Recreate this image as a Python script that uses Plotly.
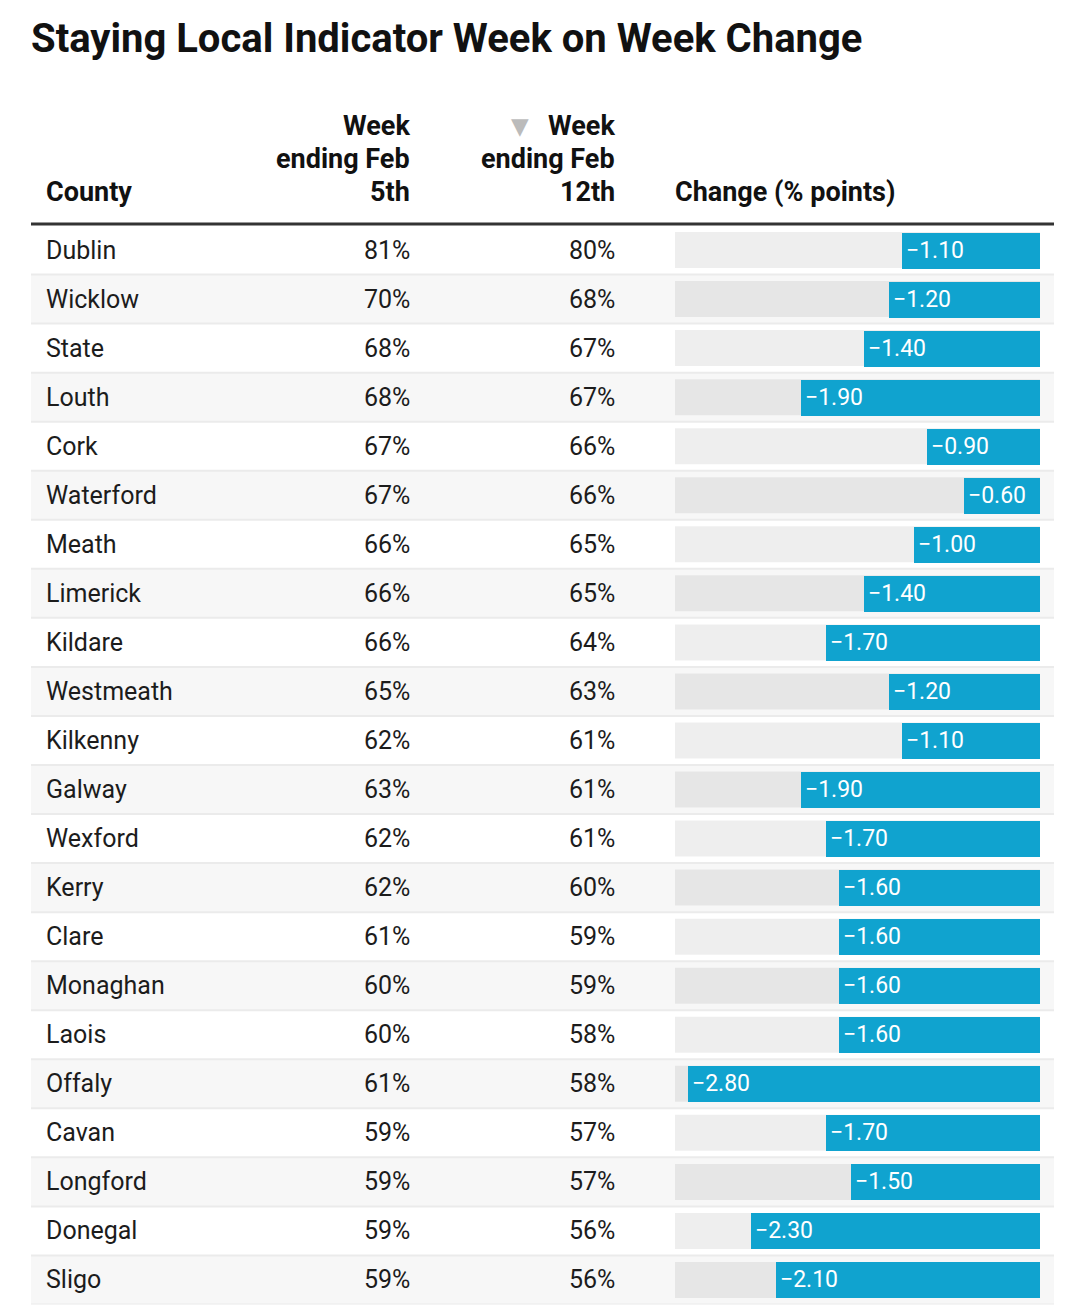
import plotly.graph_objects as go

# ---------------- data ----------------
counties = ["Dublin", "Wicklow", "State", "Louth", "Cork", "Waterford", "Meath",
            "Limerick", "Kildare", "Westmeath", "Kilkenny", "Galway", "Wexford",
            "Kerry", "Clare", "Monaghan", "Laois", "Offaly", "Cavan", "Longford",
            "Donegal", "Sligo"]
week_feb5 = [81, 70, 68, 68, 67, 67, 66, 66, 66, 65, 62, 63, 62, 62, 61, 60, 60,
             61, 59, 59, 59, 59]
week_feb12 = [80, 68, 67, 67, 66, 66, 65, 65, 64, 63, 61, 61, 61, 60, 59, 59, 58,
              58, 57, 57, 56, 56]
change = [-1.10, -1.20, -1.40, -1.90, -0.90, -0.60, -1.00, -1.40, -1.70, -1.20,
          -1.10, -1.90, -1.70, -1.60, -1.60, -1.60, -1.60, -2.80, -1.70, -1.50,
          -2.30, -2.10]
title = "Staying Local Indicator Week on Week Change"
col_headers = ["County", ["Week", "ending Feb", "5th"], ["Week", "ending Feb", "12th"],
               "Change (% points)"]
AXIS_MIN = -2.9

# ---------------- layout constants ----------------
W, H = 1080, 1305
FONT = "Roboto"
TXT = "#1c1c1c"
BLUE = "#10a3cf"
n = len(counties)
row_top, row_bot = 225.5, 1304.5


def px(x):
    return x / W


def py(y):
    return (H - y) / H


fig = go.Figure()

fig.add_trace(go.Bar(
    x=change, y=counties, orientation="h", width=0.734,
    marker=dict(color=BLUE, line=dict(width=0)),
    hoverinfo="skip", showlegend=False,
))

shapes = []
# stripes
for i in range(n):
    if i % 2 == 1:
        shapes.append(dict(type="rect", xref="paper", yref="y", x0=px(31), x1=px(1054),
                           y0=i - 0.5, y1=i + 0.5, fillcolor="#f7f7f7",
                           line=dict(width=0), layer="below"))
# tracks
for i in range(n):
    shapes.append(dict(type="rect", xref="x domain", yref="y", x0=0, x1=1,
                       y0=i - 0.367, y1=i + 0.367, fillcolor="rgba(0,0,0,0.068)",
                       line=dict(width=0), layer="below"))
# separators
for i in range(n):
    shapes.append(dict(type="line", xref="paper", yref="y", x0=px(31), x1=px(1054),
                       y0=i + 0.5, y1=i + 0.5, line=dict(color="#ebebeb", width=2),
                       layer="below"))
# header rule
shapes.append(dict(type="line", xref="paper", yref="paper", x0=px(31), x1=px(1054),
                   y0=py(224), y1=py(224), line=dict(color="#333333", width=3)))

ann = []
# title
ann.append(dict(text="<b>%s</b>" % title, xref="paper", yref="paper", x=px(29), y=py(38),
                xanchor="left", yanchor="middle", showarrow=False,
                font=dict(family=FONT, size=40, color="#111111")))
# headers
hfont = dict(family=FONT, size=27, color="#111111")
ann.append(dict(text="<b>%s</b>" % col_headers[0], xref="paper", yref="paper",
                x=px(44), y=py(192), xanchor="left", yanchor="middle",
                showarrow=False, font=hfont))
ann.append(dict(text="<b>%s</b>" % col_headers[3], xref="paper", yref="paper",
                x=px(673), y=py(192), xanchor="left", yanchor="middle",
                showarrow=False, font=hfont))
for xr, lines in [(412, col_headers[1]), (617, col_headers[2])]:
    for k, ln in enumerate(lines):
        ann.append(dict(text="<b>%s</b>" % ln, xref="paper", yref="paper",
                        x=px(xr), y=py(126 + 33 * k), xanchor="right", yanchor="middle",
                        showarrow=False, font=hfont))
# sort indicator
ann.append(dict(text="▼", xref="paper", yref="paper", x=px(520), y=py(126),
                xanchor="center", yanchor="middle", showarrow=False,
                font=dict(family="DejaVu Sans", size=23, color="#bbbbbb")))

# rows
bfont = dict(family=FONT, size=25, color=TXT)
for c, a, b, v in zip(counties, week_feb5, week_feb12, change):
    ann.append(dict(text=c, xref="paper", yref="y", x=px(44), y=c, xanchor="left",
                    yanchor="middle", showarrow=False, font=bfont))
    ann.append(dict(text="%d%%" % a, xref="paper", yref="y", x=px(412), y=c,
                    xanchor="right", yanchor="middle", showarrow=False, font=bfont))
    ann.append(dict(text="%d%%" % b, xref="paper", yref="y", x=px(617), y=c,
                    xanchor="right", yanchor="middle", showarrow=False, font=bfont))
    ann.append(dict(text=("%.2f" % v).replace("-", "\u2212"), xref="x", yref="y",
                    x=v, y=c, xanchor="left", yanchor="middle", xshift=2,
                    showarrow=False, font=dict(family=FONT, size=23, color="white")))

fig.update_layout(
    width=W, height=H, margin=dict(l=0, r=0, t=0, b=0),
    paper_bgcolor="white", plot_bgcolor="rgba(0,0,0,0)",
    xaxis=dict(domain=[px(675), px(1040)], range=[AXIS_MIN, 0], visible=False,
               fixedrange=True),
    yaxis=dict(type="category", categoryorder="array", categoryarray=counties,
               domain=[py(row_bot), py(row_top)], range=[n - 0.5, -0.5],
               visible=False, fixedrange=True),
    shapes=shapes, annotations=ann, bargap=0, showlegend=False,
)

fig.write_html("out.html", config={"displayModeBar": False},
               post_script="document.body.style.margin='0';document.body.style.overflow='hidden';")
